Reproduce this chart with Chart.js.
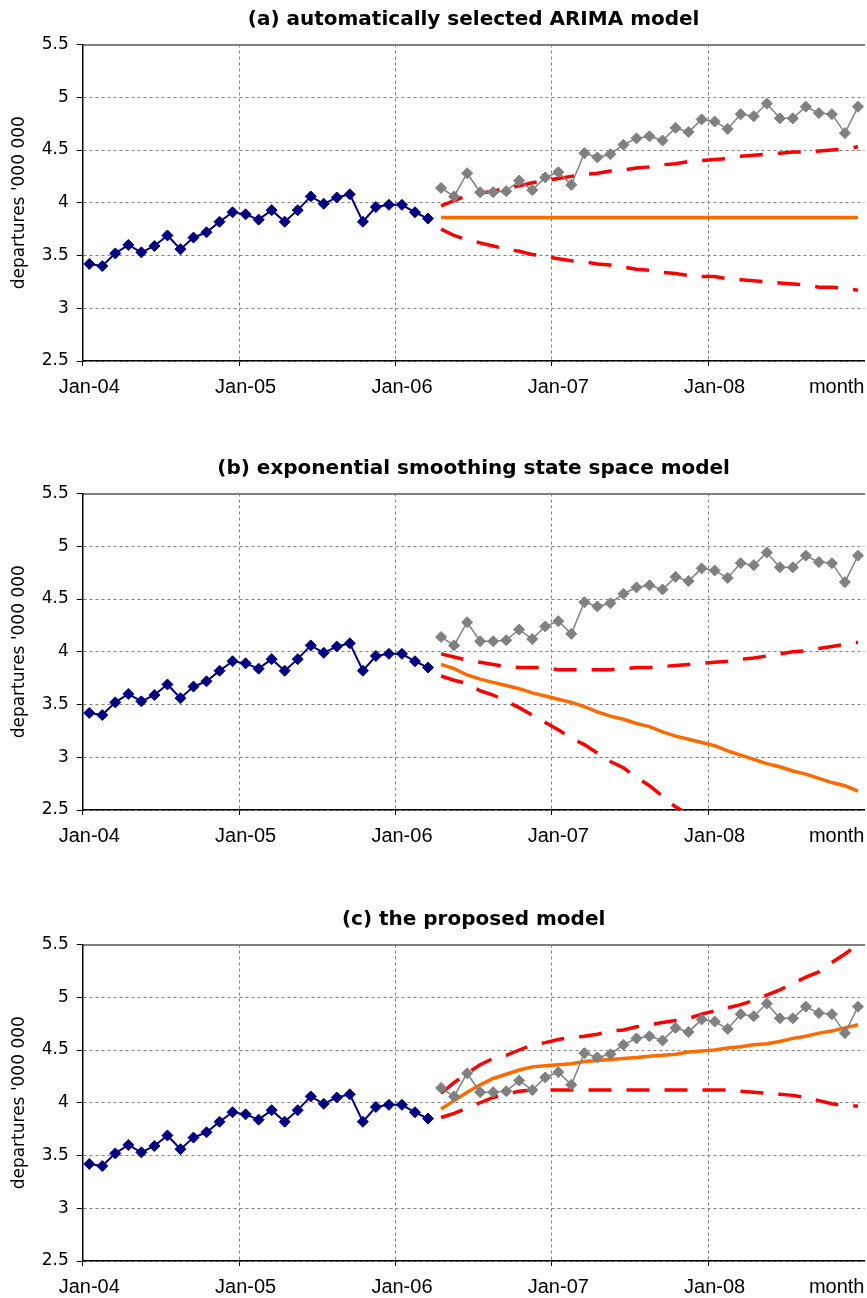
<!DOCTYPE html>
<html><head><meta charset="utf-8">
<script src="https://cdn.jsdelivr.net/npm/chart.js@4.4.1/dist/chart.umd.min.js"></script>
<style>
html,body{margin:0;padding:0;background:#fff;}
.p{position:absolute;left:0;width:867px;height:408px;}
canvas{display:block;}
</style>
</head><body>
<div class="p" style="top:0px"><canvas id="ca" width="867" height="408"></canvas></div>
<div class="p" style="top:449px"><canvas id="cb" width="867" height="408"></canvas></div>
<div class="p" style="top:900px"><canvas id="cc" width="867" height="408"></canvas></div>
<script>
const months = [
 'Jan-04','Feb-04','Mar-04','Apr-04','May-04','Jun-04','Jul-04','Aug-04','Sep-04','Oct-04','Nov-04','Dec-04',
 'Jan-05','Feb-05','Mar-05','Apr-05','May-05','Jun-05','Jul-05','Aug-05','Sep-05','Oct-05','Nov-05','Dec-05',
 'Jan-06','Feb-06','Mar-06','Apr-06','May-06','Jun-06','Jul-06','Aug-06','Sep-06','Oct-06','Nov-06','Dec-06',
 'Jan-07','Feb-07','Mar-07','Apr-07','May-07','Jun-07','Jul-07','Aug-07','Sep-07','Oct-07','Nov-07','Dec-07',
 'Jan-08','Feb-08','Mar-08','Apr-08','May-08','Jun-08','Jul-08','Aug-08','Sep-08','Oct-08','Nov-08','Dec-08'];

const panelTitles = ['(a) automatically selected ARIMA model',
                     '(b) exponential smoothing state space model',
                     '(c) the proposed model'];

// observed departures (million), Jan-04 .. Mar-06
const observed = [3.42, 3.40, 3.52, 3.60, 3.53, 3.59, 3.69, 3.56, 3.67, 3.72, 3.82, 3.91,
                  3.89, 3.84, 3.93, 3.82, 3.93, 4.06, 3.99, 4.05, 4.08, 3.82, 3.96, 3.98,
                  3.98, 3.91, 3.85];
// actual departures, Apr-06 .. Dec-08
const actual = [4.14, 4.06, 4.28, 4.10, 4.10, 4.11, 4.21, 4.12, 4.24, 4.29, 4.17, 4.47,
                4.43, 4.46, 4.55, 4.61, 4.63, 4.59, 4.71, 4.67, 4.79, 4.77, 4.70, 4.84,
                4.82, 4.94, 4.80, 4.80, 4.91, 4.85, 4.84, 4.66, 4.91];

// (a) ARIMA forecast and bounds
const fcA = [3.86, 3.86, 3.86, 3.86, 3.86, 3.86, 3.86, 3.86, 3.86, 3.86, 3.86, 3.86,
             3.86, 3.86, 3.86, 3.86, 3.86, 3.86, 3.86, 3.86, 3.86, 3.86, 3.86, 3.86,
             3.86, 3.86, 3.86, 3.86, 3.86, 3.86, 3.86, 3.86, 3.86];
const upA = [3.97, 4.02, 4.07, 4.09, 4.11, 4.14, 4.16, 4.19, 4.21, 4.23, 4.25, 4.27,
             4.28, 4.30, 4.31, 4.33, 4.34, 4.36, 4.37, 4.39, 4.40, 4.41, 4.42, 4.44,
             4.45, 4.46, 4.47, 4.48, 4.48, 4.49, 4.50, 4.51, 4.53];
const loA = [3.75, 3.69, 3.65, 3.62, 3.59, 3.56, 3.54, 3.51, 3.49, 3.47, 3.45, 3.44,
             3.42, 3.41, 3.39, 3.37, 3.36, 3.34, 3.33, 3.31, 3.30, 3.30, 3.28, 3.27,
             3.26, 3.25, 3.24, 3.23, 3.22, 3.20, 3.20, 3.19, 3.17];

// (b) exponential smoothing forecast and bounds
const fcB = [3.88, 3.84, 3.78, 3.74, 3.71, 3.68, 3.65, 3.61, 3.58, 3.55, 3.52, 3.48,
             3.43, 3.39, 3.36, 3.32, 3.29, 3.24, 3.20, 3.17, 3.14, 3.11, 3.06, 3.02,
             2.98, 2.94, 2.91, 2.87, 2.84, 2.80, 2.76, 2.73, 2.68];
const upB = [3.98, 3.95, 3.92, 3.90, 3.88, 3.86, 3.85, 3.85, 3.85, 3.83, 3.83, 3.83,
             3.83, 3.83, 3.84, 3.85, 3.85, 3.86, 3.87, 3.88, 3.89, 3.90, 3.91, 3.93,
             3.94, 3.96, 3.98, 4.00, 4.01, 4.03, 4.05, 4.07, 4.09];
const loB = [3.77, 3.73, 3.70, 3.63, 3.59, 3.53, 3.47, 3.40, 3.33, 3.26, 3.18, 3.12,
             3.04, 2.96, 2.90, 2.81, 2.73, 2.63, 2.53, 2.46, 2.38];

// (c) proposed model forecast and bounds
const fcC = [3.94, 4.02, 4.10, 4.17, 4.23, 4.27, 4.31, 4.34, 4.35, 4.36, 4.37, 4.39,
             4.40, 4.41, 4.42, 4.43, 4.44, 4.45, 4.46, 4.48, 4.49, 4.50, 4.52, 4.53,
             4.55, 4.56, 4.58, 4.61, 4.63, 4.66, 4.68, 4.71, 4.74];
const upC = [4.09, 4.19, 4.28, 4.36, 4.42, 4.45, 4.50, 4.55, 4.57, 4.60, 4.62, 4.63,
             4.65, 4.68, 4.69, 4.72, 4.74, 4.76, 4.78, 4.80, 4.84, 4.87, 4.90, 4.93,
             4.97, 5.02, 5.07, 5.13, 5.19, 5.24, 5.33, 5.41, 5.50];
const loC = [3.86, 3.90, 3.95, 4.00, 4.05, 4.08, 4.11, 4.12, 4.12, 4.12, 4.12, 4.12,
             4.12, 4.12, 4.12, 4.12, 4.12, 4.12, 4.12, 4.12, 4.12, 4.12, 4.12, 4.11,
             4.10, 4.09, 4.08, 4.07, 4.05, 4.02, 3.99, 3.97, 3.97];

const yTitle = "departures '000 000";
const xTitle = 'month';

Chart.defaults.font.family = "'Liberation Sans', Arial, sans-serif";
Chart.defaults.color = '#000';

const nObs = observed.length;
const nulls = n => new Array(n).fill(null);
const obsSeries = observed.concat(nulls(actual.length));
const actSeries = nulls(nObs).concat(actual);
const ahead = arr => nulls(nObs).concat(arr);

function makePanel(id, title, fc, up, lo) {
  new Chart(document.getElementById(id), {
    type: 'line',
    data: {
      labels: months,
      datasets: [
        {data: obsSeries, borderColor: '#000080', backgroundColor: '#000080', borderWidth: 2,
         pointStyle: 'rectRot', pointRadius: 5.5, pointHoverRadius: 5.5, pointBorderWidth: 1, pointBorderColor: '#000080', order: 0},
        {data: actSeries, borderColor: '#808080', backgroundColor: '#808080', borderWidth: 1.5,
         pointStyle: 'rectRot', pointRadius: 5.5, pointHoverRadius: 5.5, pointBorderWidth: 1, pointBorderColor: '#808080', order: 1},
        {data: ahead(fc), borderColor: '#FF6A00', borderWidth: 3.5, pointRadius: 0, pointHoverRadius: 0, order: 2},
        {data: ahead(up), borderColor: '#FF0000', borderWidth: 3.5, borderDash: [23, 15], pointRadius: 0, pointHoverRadius: 0, order: 3},
        {data: ahead(lo), borderColor: '#FF0000', borderWidth: 3.5, borderDash: [23, 15], pointRadius: 0, pointHoverRadius: 0, order: 4}
      ]
    },
    options: {
      responsive: false, animation: false, devicePixelRatio: 1,
      layout: {padding: 0, autoPadding: false},
      events: [],
      plugins: {
        legend: {display: false},
        tooltip: {enabled: false},
        title: {display: true, text: title, color: '#000', fullSize: false,
                font: {family: "'DejaVu Sans', sans-serif", size: 20, weight: 'bold'},
                padding: {top: 8, bottom: 12.5}}
      },
      scales: {
        x: {
          type: 'category', offset: true,
          grid: {offset: true, lineWidth: 1, tickLength: 5, tickWidth: 1,
                 color: c => (c.index % 12 === 0 && c.index > 0) ? '#808080' : 'rgba(0,0,0,0)',
                 tickColor: c => (c.index % 12 === 0) ? '#000' : 'rgba(0,0,0,0)'},
          border: {color: '#000', width: 1.5, dash: [3, 3]},
          ticks: {autoSkip: false, maxRotation: 0, minRotation: 0, padding: 9, color: '#000',
                  font: {size: 20},
                  callback: function (v, i) { return i % 12 === 0 ? this.getLabelForValue(v) : ''; }},
          title: {display: true, text: xTitle, align: 'end', color: '#000', font: {size: 20},
                  padding: {top: -33, bottom: 9}}
        },
        x2: {
          type: 'linear', position: 'top', min: 0, max: 1, display: true,
          grid: {display: false, drawTicks: false},
          ticks: {display: false},
          border: {display: true, color: '#808080', width: 2}
        },
        y: {
          min: 2.5, max: 5.5,
          ticks: {stepSize: 0.5, padding: 8, color: '#000',
                  font: {family: "'DejaVu Sans', sans-serif", size: 17},
                  callback: v => String(v)},
          grid: {lineWidth: 1, tickLength: 6, tickColor: '#000',
                 color: c => (c.tick && c.tick.value >= 5.5) ? 'rgba(0,0,0,0)' : '#808080'},
          border: {color: '#000', width: 1.5, dash: [3, 3]},
          title: {display: true, text: yTitle, color: '#000',
                  font: {family: "'DejaVu Sans', sans-serif", size: 17},
                  padding: {top: 9.8, bottom: 3.5}}
        }
      }
    }
  });
}

makePanel('ca', panelTitles[0], fcA, upA, loA);
makePanel('cb', panelTitles[1], fcB, upB, loB);
makePanel('cc', panelTitles[2], fcC, upC, loC);
</script>
</body></html>
